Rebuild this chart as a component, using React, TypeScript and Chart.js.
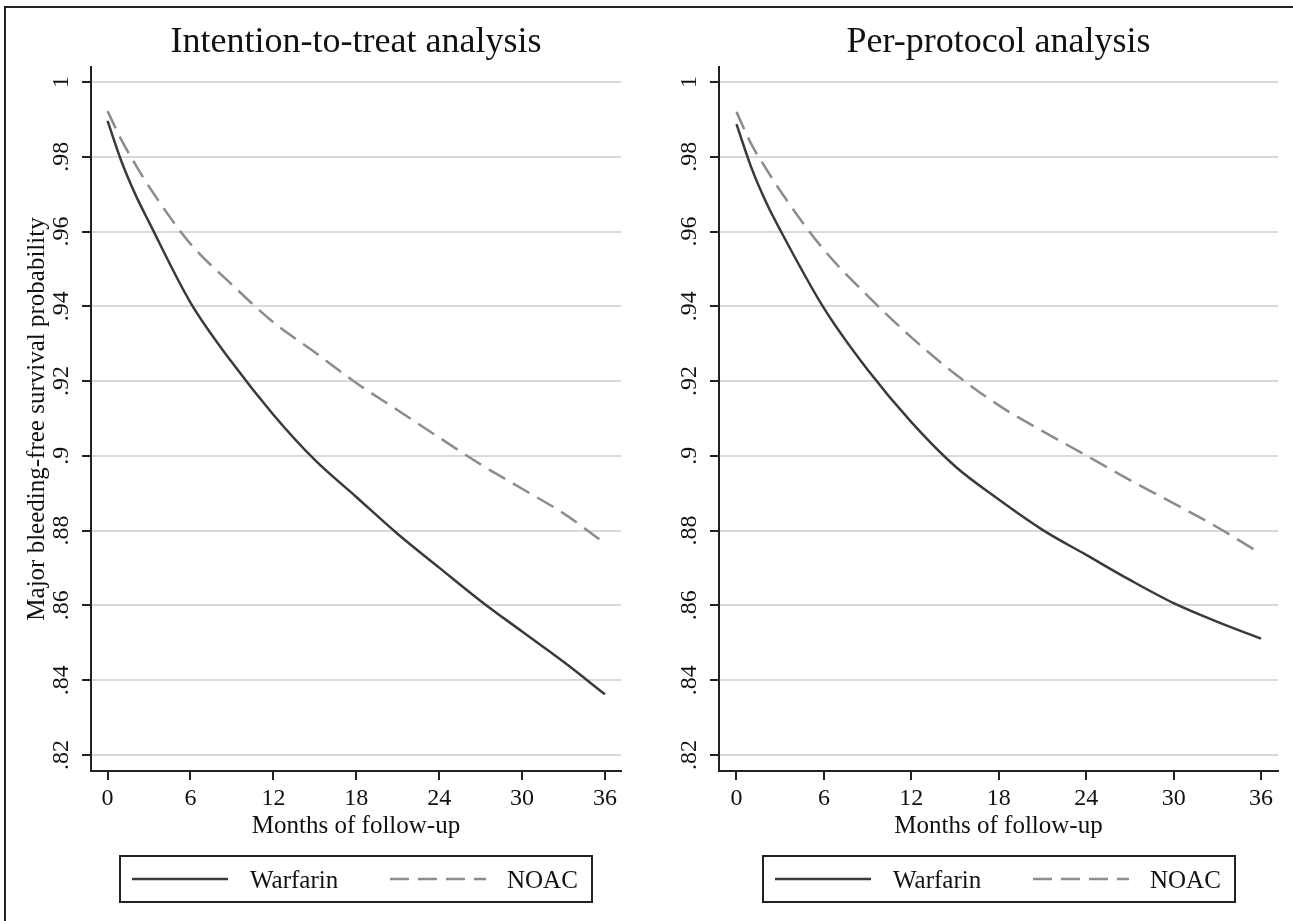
import React, { useEffect, useRef } from 'react';
import { Chart, registerables } from 'chart.js';

Chart.register(...registerables);

// ---------------- data ----------------
const MONTHS = [0, 1, 2, 3, 6, 9, 12, 15, 18, 21, 24, 27, 30, 33, 36];

const ITT_WARFARIN = [0.9896, 0.9788, 0.97, 0.9625, 0.941, 0.925, 0.911, 0.8989, 0.889, 0.8791, 0.8701, 0.8612, 0.853, 0.8449, 0.8362];
const ITT_NOAC = [0.9922, 0.9845, 0.978, 0.972, 0.9567, 0.9458, 0.9357, 0.9277, 0.9195, 0.9122, 0.9049, 0.8977, 0.8912, 0.8846, 0.8766];

const PP_WARFARIN = [0.9887, 0.9773, 0.9681, 0.9604, 0.9395, 0.923, 0.909, 0.8972, 0.8883, 0.8802, 0.8735, 0.8668, 0.8606, 0.8556, 0.8511];
const PP_NOAC = [0.992, 0.9835, 0.977, 0.9709, 0.9551, 0.9428, 0.9317, 0.9219, 0.9135, 0.9066, 0.9001, 0.8935, 0.8873, 0.8809, 0.8738];

const X_TICKS = [0, 6, 12, 18, 24, 30, 36];
const Y_TICKS = [0.82, 0.84, 0.86, 0.88, 0.9, 0.92, 0.94, 0.96, 0.98, 1];
const Y_TICK_LABELS = ['.82', '.84', '.86', '.88', '.9', '.92', '.94', '.96', '.98', '1'];

const SERIES_NAMES = ['Warfarin', 'NOAC'];
const PANEL_TITLES = ['Intention-to-treat analysis', 'Per-protocol analysis'];
const X_TITLE = 'Months of follow-up';
const Y_TITLE = 'Major bleeding-free survival probability';

// ---------------- styling ----------------
const FONT = '"Liberation Serif", "Times New Roman", serif';
const INK = '#111111';
const AXIS = '#222222';
const WARFARIN_COLOR = '#3a3a3a';
const NOAC_COLOR = '#8c8c8c';
const GRID = '#d9d9d9';
const H = 921;

const decorPlugin = {
  id: 'decor',
  afterDraw(chart: any, _args: any, opts: any) {
    const { ctx, chartArea, scales } = chart;
    const cx = (chartArea.left + chartArea.right) / 2;
    ctx.save();
    ctx.fillStyle = INK;
    ctx.textAlign = 'center';
    ctx.textBaseline = 'alphabetic';

    // panel title
    ctx.font = `36px ${FONT}`;
    ctx.fillText(opts.title, cx, 52);

    // rotated y tick labels
    ctx.font = `24px ${FONT}`;
    Y_TICKS.forEach((v, i) => {
      const y = scales.y.getPixelForValue(v);
      ctx.save();
      ctx.translate(chartArea.left - 23, y);
      ctx.rotate(-Math.PI / 2);
      ctx.fillText(Y_TICK_LABELS[i], 0, 0);
      ctx.restore();
    });

    // y axis title
    if (opts.showYTitle) {
      ctx.font = `25px ${FONT}`;
      ctx.save();
      ctx.translate(44, (chartArea.top + chartArea.bottom) / 2);
      ctx.rotate(-Math.PI / 2);
      ctx.fillText(Y_TITLE, 0, 0);
      ctx.restore();
    }

    // x axis title
    ctx.font = `25px ${FONT}`;
    ctx.fillText(X_TITLE, cx, 833);

    // legend box
    const bw = 472;
    const bh = 46;
    const bx = Math.round(cx - bw / 2);
    const by = 856;
    ctx.strokeStyle = AXIS;
    ctx.lineWidth = 2;
    ctx.strokeRect(bx, by, bw, bh);

    const ds = chart.data.datasets;
    const items = [
      { x0: bx + 12, x1: bx + 108, tx: bx + 130 },
      { x0: bx + 270, x1: bx + 366, tx: bx + 387 },
    ];
    items.forEach((it, i) => {
      const d = ds[i];
      ctx.save();
      ctx.strokeStyle = d.borderColor;
      ctx.lineWidth = d.borderWidth;
      ctx.setLineDash(d.borderDash || []);
      ctx.beginPath();
      ctx.moveTo(it.x0, by + 23);
      ctx.lineTo(it.x1, by + 23);
      ctx.stroke();
      ctx.restore();
      ctx.fillStyle = INK;
      ctx.textAlign = 'left';
      ctx.font = `25px ${FONT}`;
      ctx.fillText(d.label, it.tx, by + 32);
    });
    ctx.restore();
  },
};

type PanelProps = {
  title: string;
  warfarin: number[];
  noac: number[];
  showYTitle: boolean;
  left: number;
  width: number;
  yAxisWidth: number;
  padRight: number;
};

function Panel(props: PanelProps) {
  const ref = useRef<HTMLCanvasElement | null>(null);
  useEffect(() => {
    if (!ref.current) return;
    const chart = new Chart(ref.current, {
      type: 'line',
      data: {
        datasets: [
          {
            label: SERIES_NAMES[0],
            data: MONTHS.map((m, i) => ({ x: m, y: props.warfarin[i] })),
            borderColor: WARFARIN_COLOR,
            borderWidth: 2.5,
            pointRadius: 0,
            fill: false,
            cubicInterpolationMode: 'monotone',
          },
          {
            label: SERIES_NAMES[1],
            data: MONTHS.map((m, i) => ({ x: m, y: props.noac[i] })),
            borderColor: NOAC_COLOR,
            borderWidth: 2.5,
            borderDash: [19, 9],
            pointRadius: 0,
            fill: false,
            cubicInterpolationMode: 'monotone',
          },
        ],
      },
      options: {
        responsive: false,
        animation: false,
        devicePixelRatio: 1,
        events: [],
        layout: { padding: { top: 67, left: 0, right: props.padRight, bottom: 0 } },
        plugins: {
          legend: { display: false },
          title: { display: false },
          tooltip: { enabled: false },
          decor: { title: props.title, showYTitle: props.showYTitle },
        } as any,
        scales: {
          x: {
            type: 'linear',
            min: -1.2,
            max: 37.16,
            afterBuildTicks: (s: any) => {
              s.ticks = X_TICKS.map((v) => ({ value: v }));
            },
            afterFit: (s: any) => {
              s.height = H - 771;
            },
            ticks: {
              font: { family: FONT, size: 24 },
              color: INK,
              padding: 4,
              maxRotation: 0,
              autoSkip: false,
              callback: (v: any) => String(v),
            },
            grid: {
              drawOnChartArea: false,
              drawTicks: true,
              tickLength: 9,
              tickColor: AXIS,
              tickWidth: 2,
              lineWidth: 2,
            },
            border: { color: AXIS, width: 2 },
          },
          y: {
            type: 'linear',
            min: 0.8157,
            max: 1.004,
            afterBuildTicks: (s: any) => {
              s.ticks = Y_TICKS.map((v) => ({ value: v }));
            },
            afterFit: (s: any) => {
              s.width = props.yAxisWidth;
            },
            ticks: { display: false },
            grid: {
              color: GRID,
              lineWidth: 2,
              drawTicks: true,
              tickLength: 9,
              tickColor: AXIS,
              tickWidth: 2,
            },
            border: { color: AXIS, width: 2 },
          },
        },
      },
      plugins: [decorPlugin],
    } as any);
    return () => chart.destroy();
  }, []);
  return (
    <canvas
      ref={ref}
      width={props.width}
      height={H}
      style={{ position: 'absolute', left: props.left, top: 0, width: props.width, height: H }}
    />
  );
}

export default function App() {
  return (
    <div
      style={{
        position: 'fixed',
        left: 0,
        top: 0,
        width: 1293,
        height: H,
        background: '#ffffff',
        overflow: 'hidden',
      }}
    >
      <div
        style={{
          position: 'absolute',
          left: 4,
          top: 6,
          width: 1400,
          height: 1000,
          borderTop: `2px solid ${AXIS}`,
          borderLeft: `2px solid ${AXIS}`,
        }}
      />
      <Panel
        title={PANEL_TITLES[0]}
        warfarin={ITT_WARFARIN}
        noac={ITT_NOAC}
        showYTitle={true}
        left={0}
        width={645}
        yAxisWidth={91}
        padRight={24}
      />
      <Panel
        title={PANEL_TITLES[1]}
        warfarin={PP_WARFARIN}
        noac={PP_NOAC}
        showYTitle={false}
        left={645}
        width={648}
        yAxisWidth={74}
        padRight={15}
      />
    </div>
  );
}
